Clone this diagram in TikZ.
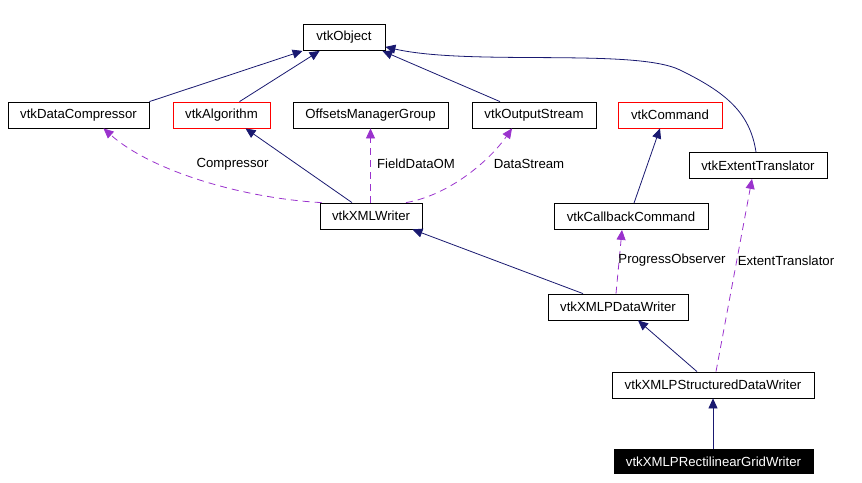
\documentclass[tikz,border=0pt]{standalone}
\usepackage{fontspec}
\setmainfont{Liberation Sans}
\usetikzlibrary{arrows.meta}
\definecolor{navy}{RGB}{25,25,112}
\definecolor{orchid}{RGB}{154,50,205}
\tikzset{
  cls/.style={draw, line width=0.8pt, inner sep=0pt, minimum height=26pt, font=\fontsize{13.2}{15}\selectfont},
  inh/.style={navy, line width=0.8pt, -{Triangle[length=10pt,width=9pt]}},
  usage/.style={orchid, line width=0.8pt, dash pattern=on 7pt off 5pt, -{Triangle[length=10pt,width=9pt]}},
  lbl/.style={font=\fontsize{13.2}{15}\selectfont}
}
\begin{document}
\begin{tikzpicture}[x=1pt,y=-1pt]
\useasboundingbox (0,0) rectangle (862,482);

\node[cls, minimum width=82pt] at (344,37.5) (obj) {vtkObject};
\node[cls, minimum width=141pt] at (78.5,115) (dc) {vtkDataCompressor};
\node[cls, red, text=black, minimum width=97pt] at (221.5,115) (alg) {vtkAlgorithm};
\node[cls, minimum width=155pt] at (370.5,115) (omg) {OffsetsManagerGroup};
\node[cls, minimum width=124pt] at (534,115) (os) {vtkOutputStream};
\node[cls, red, text=black, minimum width=104pt] at (670,115) (cmd) {vtkCommand};
\node[cls, minimum width=138pt] at (758,165.5) (et) {vtkExtentTranslator};
\node[cls, minimum width=102pt] at (371,216) (xmlw) {vtkXMLWriter};
\node[cls, minimum width=154pt] at (631,216.5) (cb) {vtkCallbackCommand};
\node[cls, minimum width=140pt] at (618,307) (pdw) {vtkXMLPDataWriter};
\node[cls, minimum width=202pt] at (713,385) (psdw) {vtkXMLPStructuredDataWriter};
\node[cls, fill=black, text=white, minimum width=199pt, minimum height=23.5pt] at (713.5,461.5) (prgw) {vtkXMLPRectilinearGridWriter};

% inheritance
\draw[inh] (dc.north east) -- (obj.south west);
\draw[inh] ([xshift=18pt]alg.north) -- ([xshift=17pt]obj.south west);
\draw[inh] ([xshift=-34pt]os.north) -- ([xshift=-3pt]obj.south east);
\draw[inh] ([xshift=-2pt]et.north) .. controls (750,112) and (725,92) .. (680,70)
  .. controls (635,48) and (470,66) .. ([yshift=4pt]obj.south east);
\draw[inh] ([xshift=-19pt]xmlw.north) -- ([xshift=24pt]alg.south);
\draw[inh] ([xshift=3pt]cb.north) -- ([xshift=-10pt]cmd.south);
\draw[inh] ([xshift=-35pt]pdw.north) -- ([xshift=-10pt]xmlw.south east);
\draw[inh] ([xshift=-16pt]psdw.north) -- ([xshift=20pt]pdw.south);
\draw[inh] (prgw.north -| psdw.south) -- (psdw.south);

% usage
\draw[usage] ([xshift=2pt]xmlw.north west) .. controls (240,198) and (150,170) .. ([xshift=25pt]dc.south);
\draw[usage] (omg.south |- xmlw.north) -- (omg.south);
\draw[usage] ([xshift=35pt]xmlw.north) .. controls (450,195) and (490,160) .. ([xshift=-22pt]os.south);
\draw[usage] ([xshift=-2pt]pdw.north) -- ([xshift=-9pt]cb.south);
\draw[usage] ([xshift=3pt]psdw.north) -- ([xshift=-6pt]et.south);

\node[lbl] at (232.5,164) (lcomp) {Compressor};
\node[lbl] at (416,164) (lfield) {FieldDataOM};
\node[lbl] at (529,164) (lstream) {DataStream};
\node[lbl] at (672,260.5) (lprog) {ProgressObserver};
\node[lbl] at (786,260.5) (lext) {ExtentTranslator};
\end{tikzpicture}
\end{document}
